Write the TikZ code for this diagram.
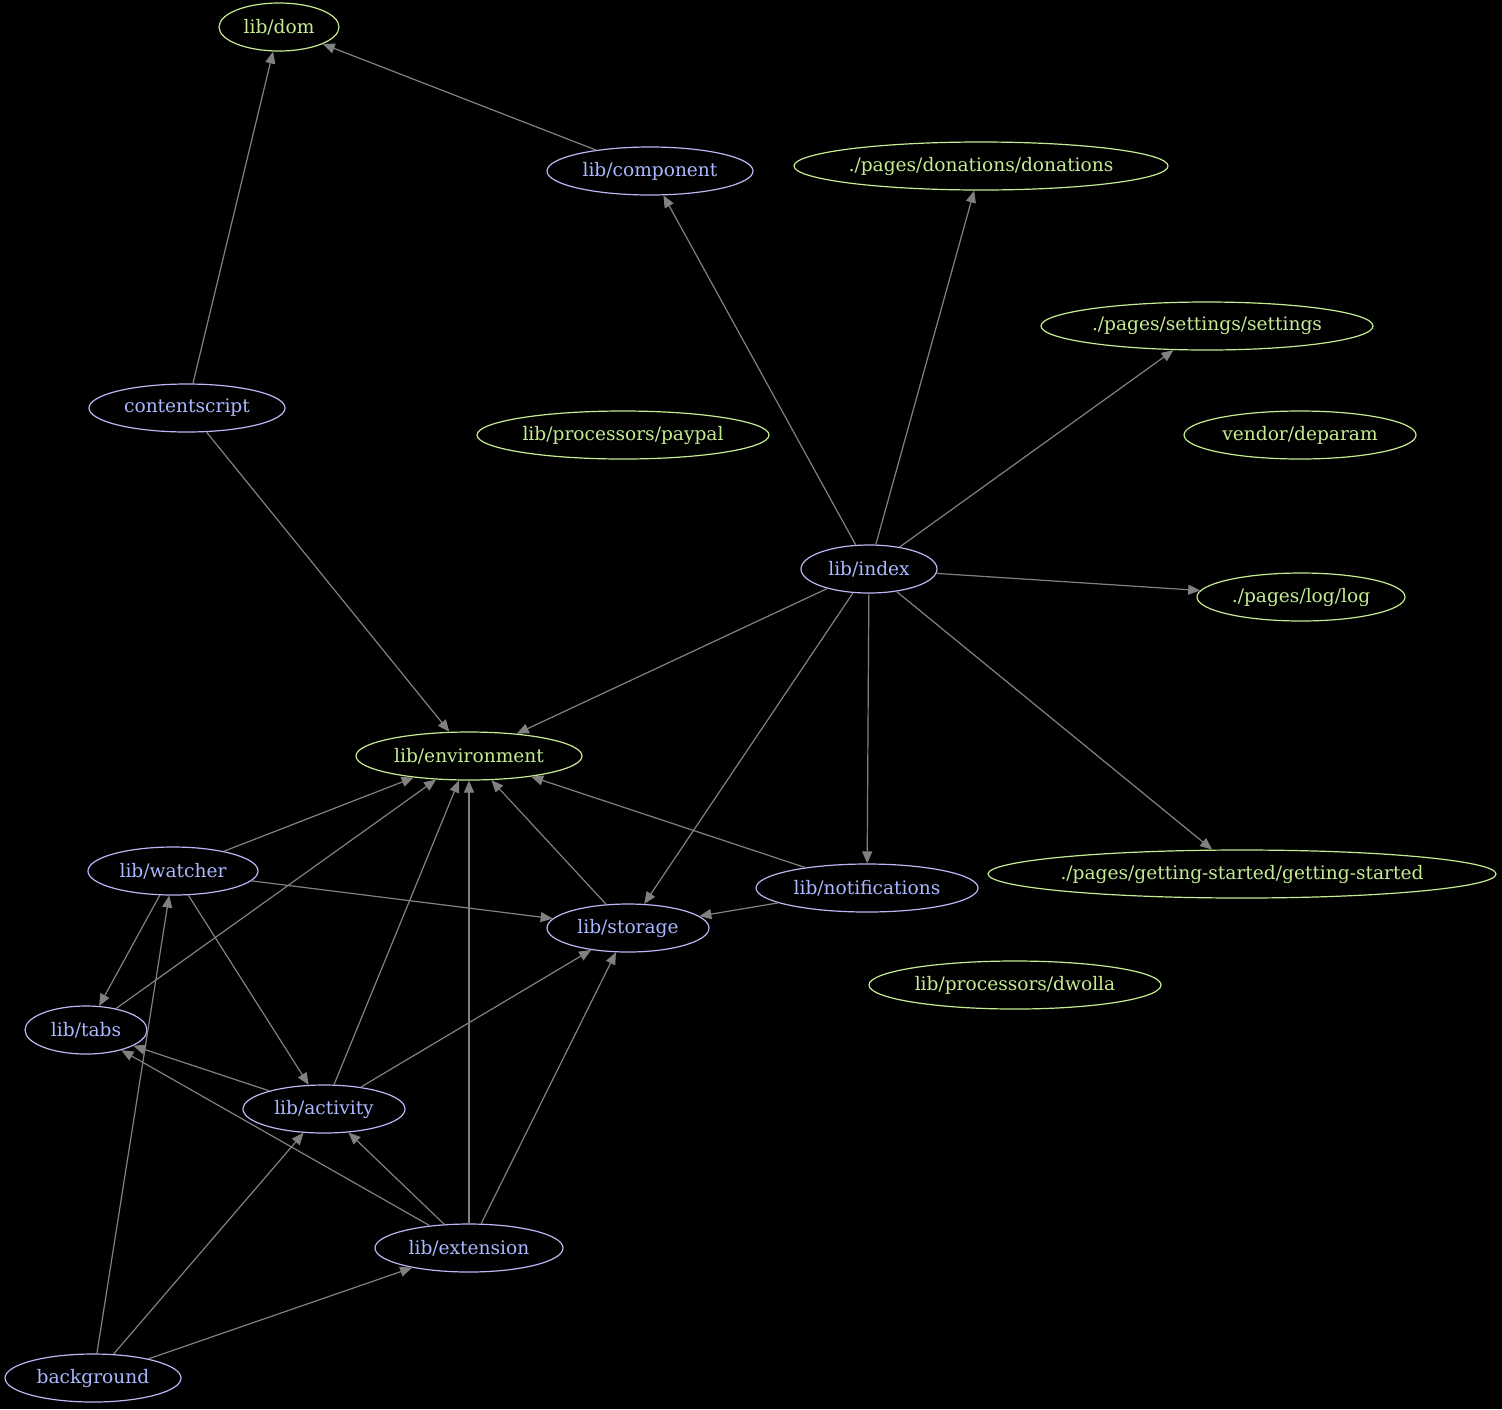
\documentclass[tikz,border=0pt]{standalone}
\usepackage{fontspec}
\setmainfont{DejaVu Serif}
\usepackage{tikz}
\usepackage{xcolor}
\usetikzlibrary{arrows.meta,shapes.geometric}
\definecolor{dgpurple}{RGB}{184,184,245}
\definecolor{dgpurpletext}{RGB}{170,184,255}
\definecolor{dggreen}{RGB}{198,236,146}
\definecolor{dgedge}{RGB}{128,128,128}
\tikzset{
  dgmod/.style={draw=dgpurple, line width=.6pt, ellipse, text=dgpurpletext, minimum height=24pt, inner sep=1pt, inner xsep=-4pt},
  dgleaf/.style={draw=dggreen, line width=.6pt, ellipse, text=dggreen, minimum height=24pt, inner sep=1pt, inner xsep=-4pt},
  dgarr/.style={-{Triangle[length=6pt,width=5pt]}, draw=dgedge, fill=dgedge, line width=.6pt}
}
\begin{document}
\begin{tikzpicture}[x=0.5pt, y=-0.5pt, font=\fontsize{9.3}{11}\selectfont]
  \fill[black] (0,0) rectangle (1502,1409);
  \useasboundingbox (0,0) rectangle (1502,1409);
  % leaves
  \node[dgleaf, minimum width=60pt] (dom) at (279,27) {lib/dom};
  \node[dgleaf, minimum width=187pt] (donations) at (981,166) {./pages/donations/donations};
  \node[dgleaf, minimum width=166pt] (settings) at (1207,326) {./pages/settings/settings};
  \node[dgleaf, minimum width=146pt] (paypal) at (623,435) {lib/processors/paypal};
  \node[dgleaf, minimum width=116pt] (deparam) at (1300,435) {vendor/deparam};
  \node[dgleaf, minimum width=104pt] (log) at (1301,597) {./pages/log/log};
  \node[dgleaf, minimum width=113pt] (environment) at (469,756) {lib/environment};
  \node[dgleaf, minimum width=254pt] (gettingstarted) at (1242,874) {./pages/getting-started/getting-started};
  \node[dgleaf, minimum width=146pt] (dwolla) at (1015,985) {lib/processors/dwolla};
  % modules
  \node[dgmod, minimum width=103pt] (component) at (650,171) {lib/component};
  \node[dgmod, minimum width=98pt] (contentscript) at (187,408) {contentscript};
  \node[dgmod, minimum width=68pt] (index) at (869,569) {lib/index};
  \node[dgmod, minimum width=85pt] (watcher) at (173,871) {lib/watcher};
  \node[dgmod, minimum width=111pt] (notifications) at (867,888) {lib/notifications};
  \node[dgmod, minimum width=81pt] (storage) at (628,928) {lib/storage};
  \node[dgmod, minimum width=61pt] (tabs) at (86,1030) {lib/tabs};
  \node[dgmod, minimum width=81pt] (activity) at (324,1109) {lib/activity};
  \node[dgmod, minimum width=94pt] (extension) at (469,1248) {lib/extension};
  \node[dgmod, minimum width=88pt] (background) at (93,1378) {background};
  % edges
  \draw[dgarr] (contentscript) -- (dom);
  \draw[dgarr] (component) -- (dom);
  \draw[dgarr] (index) -- (component);
  \draw[dgarr] (index) -- (donations);
  \draw[dgarr] (index) -- (settings);
  \draw[dgarr] (index) -- (log);
  \draw[dgarr] (index) -- (environment);
  \draw[dgarr] (index) -- (storage);
  \draw[dgarr] (index) -- (notifications);
  \draw[dgarr] (index) -- (gettingstarted);
  \draw[dgarr] (contentscript) -- (environment);
  \draw[dgarr] (watcher) -- (environment);
  \draw[dgarr] (tabs) -- (environment);
  \draw[dgarr] (activity) -- (environment);
  \draw[dgarr] (extension) -- (environment);
  \draw[dgarr] (storage) -- (environment);
  \draw[dgarr] (notifications) -- (environment);
  \draw[dgarr] (notifications) -- (storage);
  \draw[dgarr] (watcher) -- (storage);
  \draw[dgarr] (watcher) -- (tabs);
  \draw[dgarr] (watcher) -- (activity);
  \draw[dgarr] (activity) -- (tabs);
  \draw[dgarr] (activity) -- (storage);
  \draw[dgarr] (extension) -- (tabs);
  \draw[dgarr] (extension) -- (activity);
  \draw[dgarr] (extension) -- (storage);
  \draw[dgarr] (background) -- (watcher);
  \draw[dgarr] (background) -- (activity);
  \draw[dgarr] (background) -- (extension);
\end{tikzpicture}
\end{document}
